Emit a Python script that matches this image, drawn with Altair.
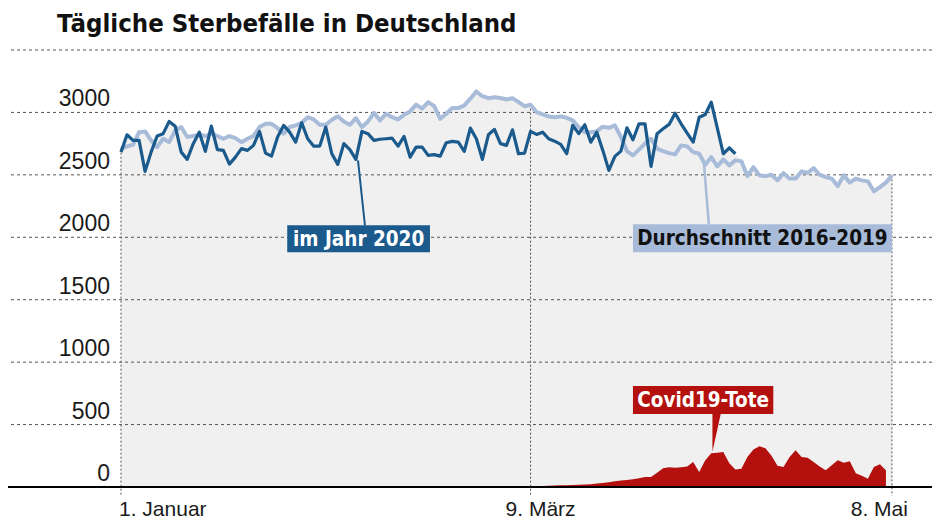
import altair as alt
import pandas as pd

title_text = "Tägliche Sterbefälle in Deutschland"

# daily deaths 2020, starting 1 January (day 0) until 12 April
deaths_2020 = [
    2682, 2821, 2776, 2776, 2528, 2682, 2811, 2830, 2928, 2890,
    2682, 2624, 2750, 2842, 2688, 2890, 2702, 2696, 2586, 2642,
    2710, 2696, 2736, 2848, 2674, 2650, 2803, 2896, 2842, 2762,
    2917, 2789, 2730, 2730,
    2883, 2669, 2584, 2750, 2702, 2624, 2848, 2830, 2776, 2785,
    2789, 2794, 2730, 2808, 2642, 2722, 2722, 2656, 2662, 2650,
    2757, 2768, 2762, 2688, 2874, 2789, 2624, 2821, 2864, 2750,
    2736, 2861, 2669, 2674, 2848,
    2824, 2842, 2789, 2770, 2744, 2669, 2896, 2830, 2901, 2762,
    2842, 2696, 2536, 2648, 2690, 2877, 2781, 2909, 2909, 2568,
    2830, 2869, 2904, 2994, 2909, 2834, 2762, 2962, 2984, 3082,
    2877, 2669, 2717, 2669,
]

# daily average 2016-2019, 1 January (day 0) until 8 May (day 128)
avg_2016_2019 = [
    2710, 2728, 2741, 2842, 2848, 2776, 2722, 2789, 2762, 2856,
    2883, 2803, 2812, 2821, 2811, 2830, 2811, 2789, 2811, 2794,
    2762, 2789, 2811, 2883, 2909, 2909, 2874, 2830, 2883, 2896,
    2917, 2962, 2944, 2901,
    2901, 2941, 2970, 2928, 2901, 2954, 2883, 2928, 2997, 2936,
    2989, 2962, 2944, 2981, 3008, 3062, 3030, 3082, 3050, 2949,
    2989, 3035, 3035, 3056, 3110, 3168, 3130, 3114, 3122, 3115,
    3104, 3114, 3082, 3050, 3062,
    3002, 2984, 2968, 2962, 2968, 2957, 2936, 2883, 2842, 2842,
    2850, 2886, 2877, 2896, 2803, 2690, 2656, 2702, 2750, 2789,
    2710, 2690, 2674, 2664, 2736, 2728,
    2682, 2669, 2581, 2642, 2568, 2624, 2576, 2616, 2610, 2490,
    2562, 2496, 2490, 2501, 2456, 2514, 2470, 2470, 2528, 2517,
    2554, 2501, 2482, 2470, 2410, 2496, 2438, 2470, 2456, 2448,
    2368, 2402, 2438, 2496,
]

# daily Covid-19 deaths, starting 9 March (day 68)
covid_start_day = 68
covid_deaths = [
    5, 6, 8, 10, 12, 14, 15, 16, 18, 20,
    22, 28, 33, 38, 46, 52, 56, 62, 70, 80,
    80, 115, 150, 158, 155, 158, 165, 200, 120, 215,
    270, 275, 280, 190, 140, 147, 240, 300, 326, 310,
    250, 170, 160, 240, 294, 240, 235, 200, 165, 134,
    174, 214, 195, 206, 110, 90, 67, 160, 182, 135,
]

x_tick_days = [0, 68, 128]
x_tick_labels = ["1. Januar", "9. März", "8. Mai"]
y_tick_values = [0, 500, 1000, 1500, 2000, 2500, 3000]
grid_values = [500, 1000, 1500, 2000, 2500, 3000, 3500]

label_2020 = "im Jahr 2020"
label_avg = "Durchschnitt 2016-2019"
label_covid = "Covid19-Tote"

# ---------------------------------------------------------------- tables
DARK = "#1a5a8c"
LIGHT = "#a8bcda"
RED = "#b4100e"
GREY_BG = "#f0f0f0"
GRID = "#555555"
FONT = "Liberation Sans"
CFONT = "DejaVu Sans Condensed"
RULE_BOTTOM = -70

n = len(avg_2016_2019)
df_avg = pd.DataFrame({"day": list(range(n)), "v": avg_2016_2019})
df_2020 = pd.DataFrame({"day": list(range(len(deaths_2020))), "v": deaths_2020})
df_covid = pd.DataFrame({
    "day": [covid_start_day + i for i in range(len(covid_deaths))],
    "v": covid_deaths,
})
top = list(avg_2016_2019)
for i, v in enumerate(deaths_2020):
    top[i] = max(top[i], v)
df_bg = pd.DataFrame({"day": list(range(n)), "v": top})
df_vrules = pd.DataFrame({"day": x_tick_days, "v": [top[d] for d in x_tick_days],
                          "b": [RULE_BOTTOM] * len(x_tick_days)})
df_grid = pd.DataFrame({"v": grid_values})
df_zero = pd.DataFrame({"v": [0]})
df_ylab = pd.DataFrame({"v": y_tick_values, "t": [str(v) for v in y_tick_values]})

xscale = alt.Scale(domain=[-18.76, 134.65], nice=False, zero=False)
yscale = alt.Scale(domain=[0, 3500], nice=False, zero=False)


def X(f="day"):
    return alt.X(f, type="quantitative", scale=xscale, axis=None)


def Y(f="v"):
    return alt.Y(f, type="quantitative", scale=yscale, axis=None)


bg = alt.Chart(df_bg).mark_area(color=GREY_BG).encode(x=X(), y=Y())
grid = alt.Chart(df_grid).mark_rule(color=GRID, strokeWidth=1, strokeDash=[3, 3]).encode(y=Y())
vrules = alt.Chart(df_vrules).mark_rule(color=GRID, strokeWidth=1, strokeDash=[2, 2]).encode(
    x=X(), y=Y(), y2="b:Q"
)
covid = alt.Chart(df_covid).mark_area(color=RED, interpolate="linear").encode(x=X(), y=Y())
baseline = alt.Chart(df_zero).mark_rule(color="black", strokeWidth=2).encode(y=Y())
line_avg = alt.Chart(df_avg).mark_line(color=LIGHT, strokeWidth=4, strokeJoin="round").encode(x=X(), y=Y())
line_2020 = alt.Chart(df_2020).mark_line(color=DARK, strokeWidth=3.2, strokeJoin="round").encode(x=X(), y=Y())

# annotations (in data units: day, deaths)
lead1 = alt.Chart(pd.DataFrame({"day": [39.35, 40.5], "v": [2616, 2096]})).mark_line(
    color=DARK, strokeWidth=2).encode(x=X(), y=Y())
lead2 = alt.Chart(pd.DataFrame({"day": [96.8, 97.6], "v": [2581, 2104]})).mark_line(
    color=LIGHT, strokeWidth=2.5).encode(x=X(), y=Y())
tri = alt.Chart(pd.DataFrame({"day": [98.2, 99.6], "v": [285, 590], "v2": [590, 590]})).mark_area(
    color=RED).encode(x=X(), y=Y(), y2="v2:Q")

boxes = pd.DataFrame({
    "x1": [27.6, 85.0, 85.0], "x2": [51.3, 128.0, 108.3],
    "y1": [1880, 1880, 584], "y2": [2096, 2104, 808],
    "c": [DARK, LIGHT, RED],
})
box = alt.Chart(boxes).mark_rect().encode(
    x=alt.X("x1:Q", scale=xscale, axis=None), x2="x2:Q",
    y=alt.Y("y1:Q", scale=yscale, axis=None), y2="y2:Q",
    color=alt.Color("c:N", scale=None),
)
texts = pd.DataFrame({
    "day": [39.45, 106.5, 96.65], "v": [1988, 1992, 696],
    "t": [label_2020, label_avg, label_covid],
    "c": ["#ffffff", "#111111", "#ffffff"],
})
box_text = alt.Chart(texts).mark_text(
    font=CFONT, fontSize=20.5, fontWeight="bold", align="center", baseline="middle", dy=1
).encode(x=X(), y=Y(), text="t:N", color=alt.Color("c:N", scale=None))

ylab = alt.Chart(df_ylab).mark_text(
    font=FONT, fontSize=23, align="right", baseline="alphabetic", dy=-6, color="#1a1a1a"
).encode(x=alt.value(102), y=Y(), text="t:N")

xlab_layers = []
for d, t, al, dx in zip(x_tick_days, x_tick_labels, ["left", "center", "right"], [-2, 10, 16]):
    xlab_layers.append(
        alt.Chart(pd.DataFrame({"day": [d], "t": [t]})).mark_text(
            font=FONT, fontSize=21, align=al, baseline="alphabetic", dx=dx, color="#1a1a1a"
        ).encode(x=X(), y=alt.value(466), text="t:N")
    )

chart = alt.layer(
    bg, grid, vrules, covid, baseline, line_avg, line_2020,
    lead1, lead2, tri, box, box_text, ylab, *xlab_layers
).properties(
    width=924,
    height=437,
    padding={"left": 0, "top": 42, "right": 0, "bottom": 34},
    autosize=alt.AutoSizeParams(type="none"),
    title=alt.TitleParams(
        title_text, anchor="start", dx=50, fontSize=25.5, font=CFONT,
        fontWeight="bold", color="#111111", offset=12,
    ),
).configure_view(stroke=None)

chart.save("out.html", embed_options={"renderer": "svg", "actions": False})
